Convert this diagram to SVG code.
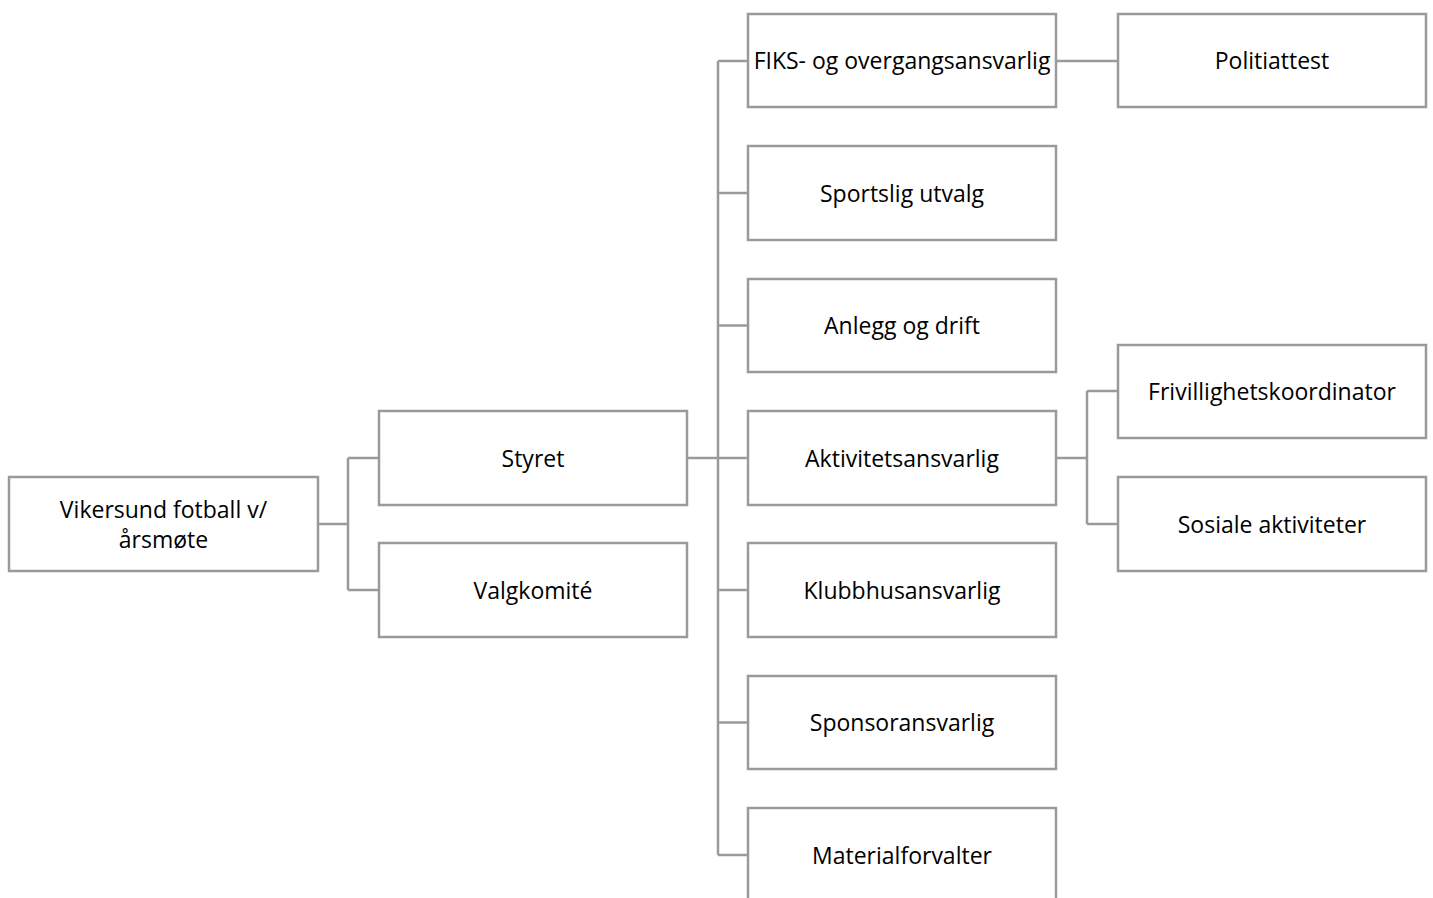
<svg xmlns="http://www.w3.org/2000/svg" width="1433" height="898" viewBox="0 0 1433 898">
<style>
.b{fill:#fff;stroke:#9a9a9a;stroke-width:2.5}
.c{fill:none;stroke:#9a9a9a;stroke-width:2.5}
text{font-family:"Open Sans","Liberation Sans",sans-serif;font-size:23px;fill:#000;text-anchor:middle;dominant-baseline:central}
</style>
<rect width="1433" height="898" fill="#fff"/>
<g id="connectors">
<path class="c" d="M318,524H348M348,458V590M348,458H379M348,590H379"/>
<path class="c" d="M687,458H718M718,61V855M718,61H748M718,193H748M718,325.5H748M718,458H748M718,590H748M718,722.5H748M718,855H748"/>
<path class="c" d="M1056,61H1118"/>
<path class="c" d="M1056,458H1087M1087,391V524M1087,391H1118M1087,524H1118"/>
</g>
<g id="n-root"><rect class="b" x="9" y="477" width="309" height="94"/><text x="163.5" y="509">Vikersund fotball v/</text><text x="163.5" y="539">årsmøte</text></g>
<g id="n-styret"><rect class="b" x="379" y="411" width="308" height="94"/><text x="533" y="458">Styret</text></g>
<g id="n-valg"><rect class="b" x="379" y="543" width="308" height="94"/><text x="533" y="590">Valgkomité</text></g>
<g id="n-fiks"><rect class="b" x="748" y="14" width="308" height="93"/><text x="902" y="60">FIKS- og overgangsansvarlig</text></g>
<g id="n-sport"><rect class="b" x="748" y="146" width="308" height="94"/><text x="902" y="193">Sportslig utvalg</text></g>
<g id="n-anlegg"><rect class="b" x="748" y="279" width="308" height="93"/><text x="902" y="325">Anlegg og drift</text></g>
<g id="n-aktiv"><rect class="b" x="748" y="411" width="308" height="94"/><text x="902" y="458">Aktivitetsansvarlig</text></g>
<g id="n-klubb"><rect class="b" x="748" y="543" width="308" height="94"/><text x="902" y="590">Klubbhusansvarlig</text></g>
<g id="n-sponsor"><rect class="b" x="748" y="676" width="308" height="93"/><text x="902" y="722">Sponsoransvarlig</text></g>
<g id="n-material"><rect class="b" x="748" y="808" width="308" height="96"/><text x="902" y="855">Materialforvalter</text></g>
<g id="n-politi"><rect class="b" x="1118" y="14" width="308" height="93"/><text x="1272" y="60">Politiattest</text></g>
<g id="n-frivillig"><rect class="b" x="1118" y="345" width="308" height="93"/><text x="1272" y="391">Frivillighetskoordinator</text></g>
<g id="n-sosiale"><rect class="b" x="1118" y="477" width="308" height="94"/><text x="1272" y="524">Sosiale aktiviteter</text></g>
</svg>
